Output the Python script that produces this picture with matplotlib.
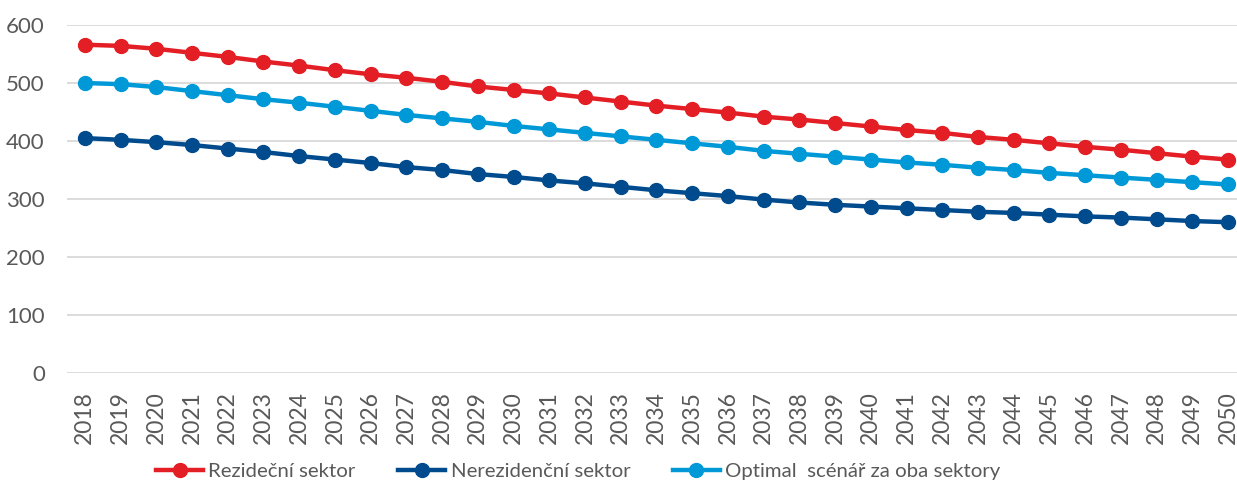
import numpy as np
import matplotlib
matplotlib.use('Agg')
import matplotlib.pyplot as plt

plt.rcParams['font.family'] = ['Lato', 'DejaVu Sans']

years = list(range(2018, 2051))

rezidencni = [566, 564, 559, 552, 545, 537, 530, 522, 515, 509, 502, 494, 488, 482, 475,
              468, 461, 455, 449, 442, 437, 431, 425, 419, 414, 407, 402, 396, 390, 385,
              379, 373, 368]
nerezidencni = [405, 402, 398, 393, 387, 381, 374, 368, 362, 355, 350, 343, 338, 332, 327,
                321, 315, 310, 305, 299, 294, 290, 287, 284, 281, 278, 276, 273, 270, 268,
                265, 262, 260]
optimal = [500, 498, 493, 486, 479, 472, 466, 459, 452, 445, 439, 433, 426, 420, 414,
           408, 402, 396, 390, 383, 378, 373, 368, 363, 359, 354, 350, 345, 341, 337,
           333, 329, 325]

labels = ['Rezideční sektor', 'Nerezidenční sektor', 'Optimal  scénář za oba sektory']
colors = ['#E31E24', '#004B8D', '#0099D8']

fig = plt.figure(figsize=(12.37, 4.86), dpi=100)
ax = fig.add_axes([67/1237, 1 - 373/486, 1 - 67/1237, 348/486])

x = np.arange(len(years))
for vals, lab, c in zip([rezidencni, nerezidencni, optimal], labels, colors):
    ax.plot(x, vals, color=c, lw=3.2, marker='o', ms=10, label=lab, zorder=3)

ax.set_ylim(0, 600)
ax.set_yticks(range(0, 601, 100))
ax.set_xlim(-0.5, 32.25)
ax.set_xticks(x)
ax.set_xticklabels([str(y) for y in years], rotation=90)
ax.grid(axis='y', color='#D9D9D9', lw=1.3, zorder=0)
for s in ax.spines.values():
    s.set_visible(False)
ax.tick_params(axis='both', length=0, labelcolor='#595959')
ax.tick_params(axis='y', pad=16, labelsize=16)
ax.tick_params(axis='x', pad=13, labelsize=16.5)

ax.legend(loc='center', bbox_to_anchor=(0.437, -0.284), ncol=3, frameon=False,
          fontsize=14.7, labelcolor='#595959', handlelength=2.3, handletextpad=0.25,
          columnspacing=2.1)

fig.savefig('out.png', dpi=100)
